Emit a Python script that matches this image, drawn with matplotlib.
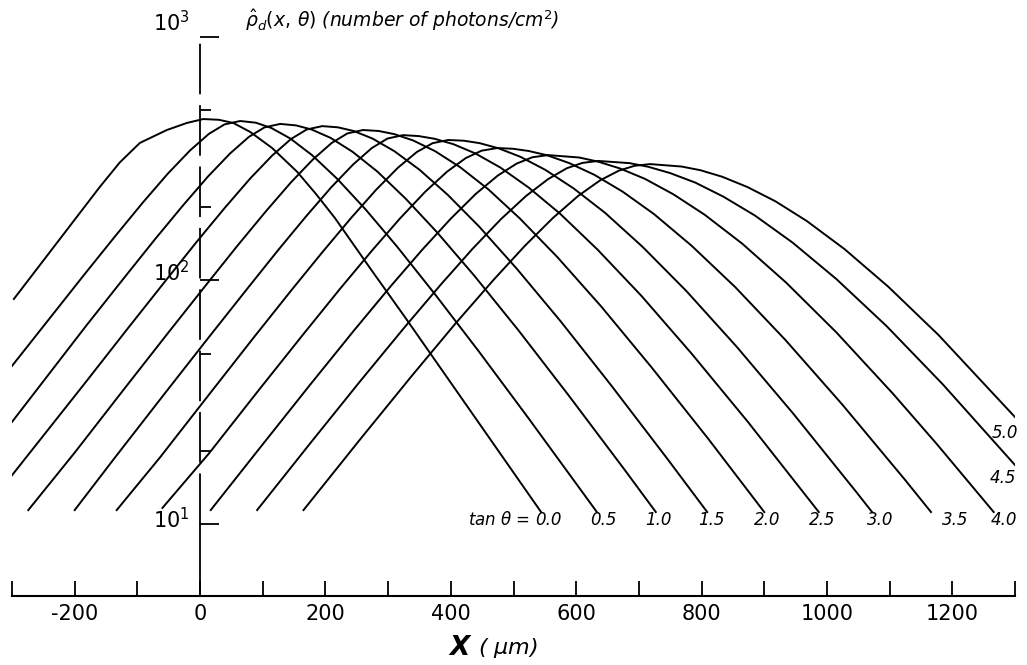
import matplotlib.pyplot as plt
import numpy as np

# tan(theta) of each track and the curve read for it:
# x in um, density given as log10(photons/cm^2)
tan_theta = ['0.0', '0.5', '1.0', '1.5', '2.0', '2.5', '3.0', '3.5', '4.0', '4.5', '5.0']

x_00 = [-297, -160, -128, -96, -53, -21, 5, 30, 53, 80, 115, 155, 185, 215, 270, 330, 544]
lr_00 = [1.924, 2.384, 2.485, 2.565, 2.618, 2.647, 2.663, 2.660, 2.647, 2.610, 2.544,
         2.446, 2.355, 2.257, 2.055, 1.838, 1.049]
x_05 = [-300, -186, -136, -91, -51, -16, 14, 39, 64, 89, 114, 144, 179, 219, 264,
        314, 374, 444, 524, 633]
lr_05 = [1.649, 2.020, 2.180, 2.321, 2.440, 2.534, 2.602, 2.641, 2.655, 2.648, 2.626,
         2.583, 2.514, 2.417, 2.292, 2.140, 1.946, 1.711, 1.434, 1.049]
x_10 = [-300, -182, -122, -72, -27, 13, 48, 78, 103, 128, 153, 178, 208, 243, 283,
        328, 378, 438, 508, 588, 678, 727]
lr_10 = [1.419, 1.813, 2.008, 2.169, 2.309, 2.428, 2.522, 2.590, 2.629, 2.643, 2.637,
         2.620, 2.586, 2.529, 2.447, 2.336, 2.198, 2.018, 1.795, 1.528, 1.220, 1.049]
x_15 = [-300, -185, -115, -55, -5, 40, 80, 115, 145, 170, 195, 220, 245, 275, 310,
        350, 395, 445, 505, 575, 655, 745, 809]
lr_15 = [1.200, 1.574, 1.804, 1.999, 2.160, 2.300, 2.419, 2.513, 2.581, 2.620, 2.634,
         2.629, 2.614, 2.583, 2.531, 2.455, 2.352, 2.222, 2.049, 1.833, 1.572, 1.269, 1.049]
x_20 = [-274, -200, -120, -50, 10, 60, 105, 145, 180, 210, 235, 260, 285, 310, 340,
        375, 415, 460, 510, 570, 640, 720, 810, 900]
lr_20 = [1.057, 1.293, 1.558, 1.788, 1.983, 2.144, 2.284, 2.403, 2.497, 2.565, 2.604,
         2.618, 2.614, 2.601, 2.575, 2.531, 2.465, 2.374, 2.255, 2.096, 1.893, 1.644,
         1.352, 1.049]
x_25 = [-200, -136, -56, 14, 74, 124, 169, 209, 244, 274, 299, 324, 349, 374, 404,
        439, 479, 524, 574, 634, 704, 784, 874, 987]
lr_25 = [1.057, 1.272, 1.537, 1.767, 1.962, 2.123, 2.263, 2.382, 2.476, 2.544, 2.583,
         2.597, 2.593, 2.582, 2.560, 2.522, 2.464, 2.382, 2.275, 2.127, 1.937, 1.700,
         1.419, 1.049]
x_30 = [-133, -64, 16, 86, 146, 196, 241, 281, 316, 346, 371, 396, 421, 446, 476,
        511, 551, 596, 646, 706, 776, 856, 946, 1046, 1072]
lr_30 = [1.057, 1.273, 1.537, 1.767, 1.961, 2.119, 2.257, 2.373, 2.464, 2.528, 2.564,
         2.577, 2.574, 2.564, 2.543, 2.508, 2.454, 2.378, 2.278, 2.138, 1.956, 1.728,
         1.454, 1.134, 1.049]
x_35 = [-60, 14, 94, 164, 224, 274, 319, 359, 394, 424, 449, 474, 499, 524, 554,
        589, 629, 674, 724, 784, 854, 934, 1024, 1124, 1166]
lr_35 = [1.066, 1.289, 1.551, 1.777, 1.968, 2.122, 2.255, 2.364, 2.447, 2.503, 2.533,
         2.544, 2.541, 2.532, 2.514, 2.482, 2.434, 2.365, 2.273, 2.143, 1.972, 1.755,
         1.492, 1.183, 1.049]
x_40 = [17, 95, 175, 245, 305, 355, 400, 440, 475, 505, 530, 555, 605, 635, 670,
        710, 755, 805, 865, 935, 1015, 1105, 1175, 1266]
lr_40 = [1.057, 1.311, 1.570, 1.793, 1.979, 2.128, 2.254, 2.356, 2.431, 2.480, 2.506,
         2.515, 2.505, 2.488, 2.460, 2.417, 2.354, 2.270, 2.151, 1.991, 1.787, 1.536,
         1.329, 1.049]
x_45 = [91, 175, 255, 325, 385, 435, 480, 520, 555, 585, 610, 635, 685, 715, 750,
        790, 835, 885, 945, 1015, 1095, 1185, 1300]
lr_45 = [1.057, 1.329, 1.585, 1.804, 1.986, 2.131, 2.252, 2.347, 2.416, 2.461, 2.483,
         2.491, 2.482, 2.467, 2.441, 2.402, 2.344, 2.267, 2.156, 2.006, 1.813, 1.573,
         1.242]
x_50 = [165, 258, 338, 408, 468, 518, 563, 603, 638, 668, 693, 718, 768, 798, 833,
        873, 918, 968, 1028, 1098, 1178, 1300]
lr_50 = [1.057, 1.356, 1.609, 1.825, 2.002, 2.142, 2.257, 2.347, 2.411, 2.451, 2.471,
         2.478, 2.468, 2.453, 2.426, 2.384, 2.325, 2.244, 2.129, 1.974, 1.776, 1.439]

curves_x = [x_00, x_05, x_10, x_15, x_20, x_25, x_30, x_35, x_40, x_45, x_50]
curves_lr = [lr_00, lr_05, lr_10, lr_15, lr_20, lr_25, lr_30, lr_35, lr_40, lr_45, lr_50]

# where each tan(theta) value is written
label_x = [555, 643, 732, 815, 904, 992, 1085, 1204, 1282, 1281, 1284]
label_y = [10.4, 10.4, 10.4, 10.4, 10.4, 10.4, 10.4, 10.4, 10.4, 15.4, 23.7]

plt.rcParams['font.family'] = ['DejaVu Sans']
plt.rcParams['mathtext.fontset'] = 'dejavusans'

fig = plt.figure(figsize=(10.27, 6.65), dpi=100)
ax = fig.add_axes([12 / 1027, 69 / 665, 1003 / 1027, 559 / 665])

for xs, lr in zip(curves_x, curves_lr):
    ax.plot(xs, 10 ** np.array(lr), color='black', lw=1.4,
            solid_joinstyle='round')

ax.set_yscale('log')
ax.set_xlim(-300, 1300)
ax.set_ylim(5.06, 1000)

# bottom axis with a tick every 100 um, labels every 200 um
ax.spines['top'].set_visible(False)
ax.spines['right'].set_visible(False)
ax.spines['bottom'].set_linewidth(1.5)
xt = list(range(-300, 1301, 100))
ax.set_xticks(xt)
ax.set_xticklabels([str(v) if v % 200 == 0 and -300 < v < 1300 else '' for v in xt])
ax.tick_params(axis='x', direction='in', length=11, width=1.3, labelsize=15, pad=6)

# vertical axis at x = 0: broken above 10^1, solid below
ax.spines['left'].set_position(('data', 0))
ax.spines['left'].set_visible(False)
ax.plot([0, 0], [10, 1000], color='black', lw=1.3, ls=(0, (28, 6)), clip_on=False)
ax.plot([0, 0], [5.06, 10], color='black', lw=1.3, clip_on=False)
ax.set_yticks([10, 100, 1000])
ax.set_yticklabels([])
ax.set_yticks([20, 50, 200, 500], minor=True)
ax.yaxis.set_minor_formatter(plt.NullFormatter())
ax.tick_params(axis='y', which='major', direction='in', length=14, width=1.3)
ax.tick_params(axis='y', which='minor', direction='in', length=8, width=1.3)
for val, txt in [(1150, '$10^3$'), (108, '$10^2$'), (10.4, '$10^1$')]:
    ax.text(-16, val, txt, ha='right', va='center', fontsize=15, clip_on=False)

for i, t in enumerate(tan_theta):
    ax.text(label_x[i], label_y[i], t, ha='center', va='center',
            fontsize=12, style='italic')
ax.text(526, 10.4, r'tan $\theta$ =', ha='right', va='center', fontsize=12,
        style='italic')

fig.text(245 / 1027, 1 - 20 / 665,
         r'$\hat{\rho}_d(x,\,\theta)$ (number of photons/cm$^2$)',
         ha='left', va='center', fontsize=13.5, style='italic')
fig.text(470 / 1027, 1 - 648 / 665, 'X', ha='right', va='center',
         fontsize=19, style='italic', weight='bold')
fig.text(478 / 1027, 1 - 648 / 665, r'( $\mu$m)', ha='left', va='center',
         fontsize=16, style='italic')

fig.savefig('out.png', dpi=100)
